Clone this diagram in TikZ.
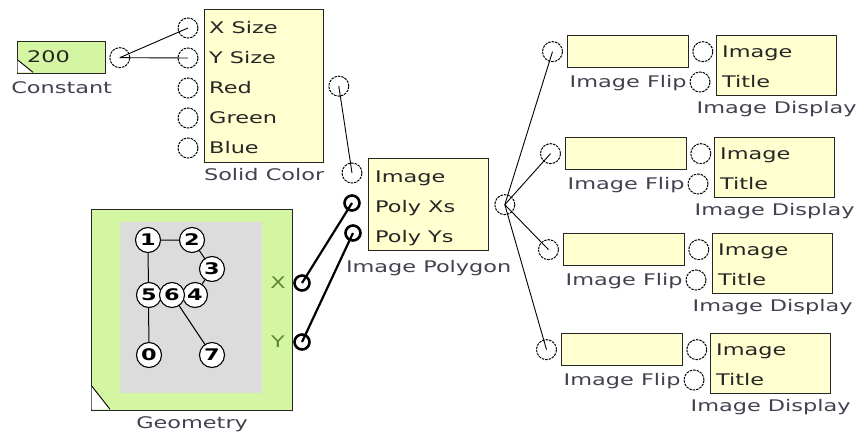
\documentclass[tikz,border=0pt]{standalone}
\usepackage{fontspec}
\setmainfont{DejaVu Sans}[FakeStretch=1.4]
\usepackage{tikz}
\usetikzlibrary{positioning}

\definecolor{blockyellow}{HTML}{FFFFD0}
\definecolor{blockgreen}{HTML}{D4F5A2}
\definecolor{panelgray}{HTML}{DCDCDC}
\definecolor{captiongray}{HTML}{45404F}
\definecolor{axisgreen}{HTML}{5C8A36}

\begin{document}
\begin{tikzpicture}[x=1pt, y=-1pt, font=\fontsize{16}{19}\selectfont,
    block/.style={rectangle, draw=black!85, line width=1.3pt, fill=blockyellow,
                  anchor=north west, inner sep=0pt},
    portdash/.style={circle, draw, line width=1pt, dash pattern=on 2.5pt off 1pt,
                     minimum size=20pt, inner sep=0pt},
    portbold/.style={circle, draw, line width=2.6pt, minimum size=15pt, inner sep=0pt},
    portname/.style={anchor=west, inner sep=0pt, text=black!85},
    caption/.style={text=captiongray, inner sep=0pt},
    wire/.style={line width=0.9pt},
    boldwire/.style={line width=2.2pt},
    vertex/.style={circle, draw, fill=white, line width=1.1pt, minimum size=25pt,
                   inner sep=0pt, font=\fontsize{16}{19}\selectfont\bfseries}]

    \useasboundingbox (0,0) rectangle (861,439);

    % Constant
    \node[block, fill=blockgreen, minimum width=88pt, minimum height=32pt] (const) at (17,41) {};
    \fill[white] (17.7,60) -- (33,72.3) -- (17.7,72.3) -- cycle;
    \draw[line width=0.9pt] (17.7,60) -- (33,72.3);
    \node[portname] (constval) at (27,57) {200};
    \node[portdash, right=3pt of const] (constout) {};
    \node[caption, below=7pt of const] {Constant};

    % Solid Color
    \node[block, minimum width=119pt, minimum height=153pt] (solid) at (204,9) {};
    \node[portdash] (xsize) at (188,28) {};
    \node[portdash] (ysize) at (188,58) {};
    \node[portdash] (red) at (188,88) {};
    \node[portdash] (green) at (188,118) {};
    \node[portdash] (blue) at (188,148) {};
    \node[portname] at (209,28) {X Size};
    \node[portname] at (209,58) {Y Size};
    \node[portname] at (209,88) {Red};
    \node[portname] at (209,118) {Green};
    \node[portname] at (209,148) {Blue};
    \node[portdash, right=4pt of solid] (solidout) {};
    \node[caption, below=5pt of solid] {Solid Color};

    % Image Polygon
    \node[block, minimum width=120pt, minimum height=92pt] (poly) at (368,158) {};
    \node[portdash] (polyimg) at (352,173) {};
    \node[portbold] (polyxs) at (352,203) {};
    \node[portbold] (polyys) at (353,233) {};
    \node[portname] at (375,178) {Image};
    \node[portname] at (375,208) {Poly Xs};
    \node[portname] at (375,238) {Poly Ys};
    \node[portdash, right=5pt of poly] (polyout) {};
    \node[caption, below=9pt of poly] {Image Polygon};

    % Geometry
    \node[block, fill=blockgreen, minimum width=201pt, minimum height=201pt] (geom) at (91,209) {};
    \fill[panelgray] (120,222) rectangle (262,393);
    \fill[white] (91.7,386) -- (110,409.3) -- (91.7,409.3) -- cycle;
    \draw[line width=0.9pt] (91.7,386) -- (110,409.3);
    \coordinate (p0) at (149,355);
    \coordinate (p1) at (148,240);
    \coordinate (p2) at (192,240);
    \coordinate (p3) at (212,269);
    \coordinate (p4) at (195,295);
    \coordinate (p5) at (149,295);
    \coordinate (p6) at (172,295);
    \coordinate (p7) at (212,355);
    \draw[line width=1pt] (p0) -- (p1) -- (p2) -- (p3) -- (p4) -- (p5) -- (p6) -- (p7);
    \foreach \k in {0,...,7}
        \node[vertex] (v\k) at (p\k) {\k};
    \node[text=axisgreen] (xlab) at (278,283) {X};
    \node[text=axisgreen] (ylab) at (278,342) {Y};
    \node[portbold] (geomx) at (302,283) {};
    \node[portbold] (geomy) at (302,342) {};
    \node[caption, below=5pt of geom] {Geometry};

    % Wires
    \draw[wire] (constout.center) -- (xsize.center);
    \draw[wire] (constout.center) -- (ysize.center);
    \draw[wire] (solidout.center) -- (polyimg.center);
    \draw[boldwire] (geomx.center) -- (polyxs.center);
    \draw[boldwire] (geomy.center) -- (polyys.center);

    % Image Flip -> Image Display rows
    \foreach \i/\fx/\ty in {1/567/35, 2/565/137, 3/563/233, 4/561/333} {
        \node[block, minimum width=121pt, minimum height=32pt] (flip\i) at (\fx,\ty) {};
        \node[portdash, left=4pt of flip\i] (flipin\i) {};
        \node[portdash, right=3pt of flip\i] (flipout\i) {};
        \node[caption, below=7pt of flip\i] {Image Flip};
        \node[block, minimum width=120pt, minimum height=60pt] (disp\i) at (\fx+149,\ty) {};
        \node[portdash] (title\i) at (\fx+133,\ty+47) {};
        \node[portname] at (\fx+155,\ty+18) {Image};
        \node[portname] at (\fx+155,\ty+47) {Title};
        \node[caption, below=5pt of disp\i] {Image Display};
        \draw[wire] (polyout.center) -- (flipin\i.center);
    }

\end{tikzpicture}
\end{document}
